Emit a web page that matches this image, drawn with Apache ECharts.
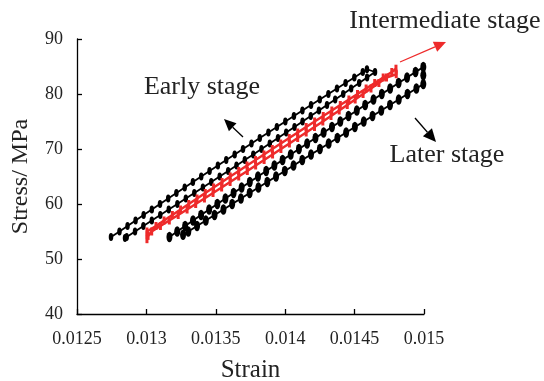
<!DOCTYPE html>
<html>
<head>
<meta charset="utf-8">
<script src="https://cdn.jsdelivr.net/npm/echarts@6/dist/echarts.min.js"></script>
<style>
  html, body { margin: 0; padding: 0; background: #fff; }
  #chart { width: 544px; height: 381px; }
</style>
</head>
<body>
<div id="chart"></div>
<script>
// axis settings
const xMin = 0.0125, xMax = 0.015, xStep = 0.0005;
const yMin = 40, yMax = 90, yStep = 10;
const xTickLabels = ['0.0125', '0.013', '0.0135', '0.014', '0.0145', '0.015'];

// early stage loop: loading branch then unloading branch
const earlyStrain = [
  0.012745, 0.012806, 0.012864, 0.012922, 0.012980, 0.013039, 0.013098, 0.013157,
  0.013216, 0.013276, 0.013335, 0.013395, 0.013455, 0.013515, 0.013575, 0.013636,
  0.013696, 0.013757, 0.013817, 0.013879, 0.013940, 0.014001, 0.014063, 0.014124,
  0.014186, 0.014249, 0.014311, 0.014373, 0.014435, 0.014498, 0.014559, 0.014589,
  0.014647, 0.014590, 0.014533, 0.014475, 0.014418, 0.014360, 0.014301, 0.014243,
  0.014184, 0.014125, 0.014067, 0.014007, 0.013948, 0.013889, 0.013829, 0.013770,
  0.013709, 0.013649, 0.013589, 0.013528, 0.013467, 0.013407, 0.013345, 0.013284,
  0.013223, 0.013161, 0.013100, 0.013039, 0.012978, 0.012918, 0.012858, 0.012846
];
const earlyStress = [
  54, 55, 56, 57, 58, 59, 60, 61, 62, 63, 64, 65, 66, 67, 68, 69,
  70, 71, 72, 73, 74, 75, 76, 77, 78, 79, 80, 81, 82, 83, 84, 84.5,
  84, 83, 82, 81, 80, 79, 78, 77, 76, 75, 74, 73, 72, 71, 70, 69,
  68, 67, 66, 65, 64, 63, 62, 61, 60, 59, 58, 57, 56, 55, 54, 53.8
];

// intermediate stage loop
const midStrain = [
  0.013004, 0.013004, 0.013069, 0.013127, 0.013187, 0.013246, 0.013305, 0.013365,
  0.013424, 0.013484, 0.013545, 0.013604, 0.013665, 0.013725, 0.013786, 0.013847,
  0.013907, 0.013968, 0.014029, 0.014090, 0.014151, 0.014212, 0.014274, 0.014336,
  0.014397, 0.014459, 0.014521, 0.014583, 0.014645, 0.014706, 0.014768, 0.014798,
  0.014800, 0.014730, 0.014675, 0.014618, 0.014561, 0.014504, 0.014447, 0.014389,
  0.014330, 0.014271, 0.014211, 0.014151, 0.014090, 0.014030, 0.013969, 0.013909,
  0.013848, 0.013787, 0.013727, 0.013665, 0.013603, 0.013542, 0.013480, 0.013418,
  0.013355, 0.013293, 0.013229, 0.013165, 0.013101, 0.013038, 0.013012
];
const midStress = [
  53.6, 55, 56, 57, 58, 59, 60, 61, 62, 63, 64, 65, 66, 67, 68, 69,
  70, 71, 72, 73, 74, 75, 76, 77, 78, 79, 80, 81, 82, 83, 84, 84.6,
  83.6, 83, 82, 81, 80, 79, 78, 77, 76, 75, 74, 73, 72, 71, 70, 69,
  68, 67, 66, 65, 64, 63, 62, 61, 60, 59, 58, 57, 56, 55, 54.2
];

// later stage loop
const lateStrain = [
  0.013166, 0.013222, 0.013279, 0.013336, 0.013394, 0.013452, 0.013511, 0.013569,
  0.013628, 0.013686, 0.013745, 0.013804, 0.013863, 0.013922, 0.013981, 0.014040,
  0.014099, 0.014158, 0.014218, 0.014277, 0.014337, 0.014397, 0.014456, 0.014516,
  0.014576, 0.014636, 0.014696, 0.014756, 0.014817, 0.014878, 0.014939, 0.014995,
  0.014995, 0.014995, 0.014945, 0.014881, 0.014818, 0.014755, 0.014692, 0.014629,
  0.014566, 0.014502, 0.014439, 0.014376, 0.014313, 0.014250, 0.014186, 0.014123,
  0.014060, 0.013997, 0.013934, 0.013871, 0.013807, 0.013744, 0.013681, 0.013618,
  0.013555, 0.013491, 0.013428, 0.013365, 0.013302, 0.013264
];
const lateStress = [
  54, 55, 56, 57, 58, 59, 60, 61, 62, 63, 64, 65, 66, 67, 68, 69,
  70, 71, 72, 73, 74, 75, 76, 77, 78, 79, 80, 81, 82, 83, 84, 84.9,
  83.4, 81.8, 81, 80, 79, 78, 77, 76, 75, 74, 73, 72, 71, 70, 69, 68,
  67, 66, 65, 64, 63, 62, 61, 60, 59, 58, 57, 56, 55, 54.4
];

function pairs(xs, ys) {
  return xs.map((x, i) => [x, ys[i]]);
}

const textColor = '#222';
const red = '#ee2b2b';
const serif = '"Liberation Serif", "Times New Roman", serif';

// arrow helper for annotations (pixel positions)
function arrow(x1, y1, x2, y2, color, head, half) {
  const len = Math.hypot(x2 - x1, y2 - y1);
  const ux = (x2 - x1) / len, uy = (y2 - y1) / len;
  const bx = x2 - ux * head, by = y2 - uy * head;
  return [
    {
      type: 'line', silent: true,
      shape: {x1: x1, y1: y1, x2: bx, y2: by},
      style: {stroke: color, lineWidth: 1.3}
    },
    {
      type: 'polygon', silent: true,
      shape: {points: [[x2, y2], [bx - uy * half, by + ux * half], [bx + uy * half, by - ux * half]]},
      style: {fill: color}
    }
  ];
}

const chart = echarts.init(document.getElementById('chart'));
chart.setOption({
  animation: false,
  backgroundColor: '#fff',
  grid: {left: 77, right: 120, top: 39, bottom: 67, outerBoundsMode: 'none', containLabel: false},
  xAxis: {
    type: 'value',
    min: xMin, max: xMax, interval: xStep,
    name: 'Strain',
    nameLocation: 'middle',
    nameGap: 44,
    nameTextStyle: {fontFamily: serif, fontSize: 25, color: textColor},
    axisLine: {lineStyle: {color: '#000', width: 1.3}},
    axisTick: {inside: true, length: 5, lineStyle: {color: '#000', width: 1.3}},
    splitLine: {show: false},
    axisLabel: {
      fontFamily: serif, fontSize: 18, color: textColor, margin: 16,
      formatter: (v) => xTickLabels[Math.round((v - xMin) / xStep)]
    }
  },
  yAxis: {
    type: 'value',
    min: yMin, max: yMax, interval: yStep,
    name: 'Stress/ MPa',
    nameLocation: 'middle',
    nameGap: 44,
    nameRotate: 90,
    nameTextStyle: {fontFamily: serif, fontSize: 24, color: textColor},
    axisLine: {show: true, lineStyle: {color: '#000', width: 1.3}},
    axisTick: {show: true, inside: true, length: 5, lineStyle: {color: '#000', width: 1.3}},
    splitLine: {show: false},
    axisLabel: {fontFamily: serif, fontSize: 18, color: textColor, margin: 14}
  },
  series: [
    {
      name: 'Early stage',
      type: 'line',
      data: pairs(earlyStrain, earlyStress),
      showAllSymbol: true,
      symbol: 'circle',
      symbolSize: [4.5, 8],
      itemStyle: {color: '#000'},
      lineStyle: {color: '#000', width: 1.8}
    },
    {
      name: 'Later stage',
      type: 'line',
      data: pairs(lateStrain, lateStress),
      showAllSymbol: true,
      symbol: 'circle',
      symbolSize: [6, 10.5],
      itemStyle: {color: '#000'},
      lineStyle: {color: '#000', width: 2}
    },
    {
      name: 'Intermediate stage',
      type: 'line',
      data: pairs(midStrain, midStress),
      showAllSymbol: true,
      symbol: 'rect',
      symbolSize: [3, 8],
      itemStyle: {color: red},
      lineStyle: {color: red, width: 2.5}
    }
  ],
  graphic: [
    {
      type: 'text', silent: true, x: 202, y: 87,
      style: {text: 'Early stage', font: '26px ' + serif, fill: textColor, textAlign: 'center', textVerticalAlign: 'middle'}
    },
    {
      type: 'text', silent: true, x: 445, y: 21,
      style: {text: 'Intermediate stage', font: '26px ' + serif, fill: textColor, textAlign: 'center', textVerticalAlign: 'middle'}
    },
    {
      type: 'text', silent: true, x: 447, y: 155,
      style: {text: 'Later stage', font: '26px ' + serif, fill: textColor, textAlign: 'center', textVerticalAlign: 'middle'}
    }
  ]
    .concat(arrow(243, 137, 224, 119, '#000', 12, 5.5))
    .concat(arrow(400, 62, 446, 42, red, 12, 5.5))
    .concat(arrow(415, 118, 436, 142, '#000', 13, 6))
});
</script>
</body>
</html>
